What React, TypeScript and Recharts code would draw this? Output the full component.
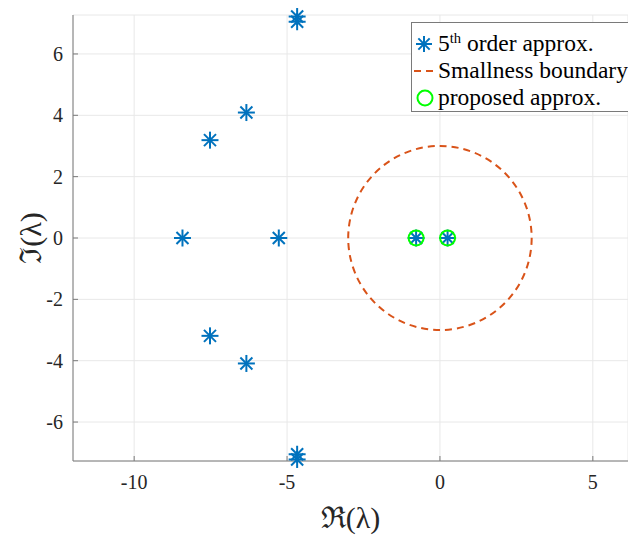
import { ScatterChart, Scatter, XAxis, YAxis, CartesianGrid } from 'recharts';

// eigenvalues of the 5th order approximation (real / imaginary parts)
const starRe = [-8.42, -7.52, -7.52, -6.33, -6.33, -5.27, -4.67, -4.67, -4.67, -4.67, -0.78, 0.25];
const starIm = [0, 3.19, -3.19, 4.09, -4.09, 0, 7.22, 7.05, -7.05, -7.22, 0, 0];

// proposed approximation
const proposedRe = [-0.78, 0.25];
const proposedIm = [0, 0];

// smallness boundary: circle centred at the origin
const boundaryCenter = [0, 0];
const boundaryRadius = 3;

const xTicks = [-10, -5, 0, 5];
const yTicks = [-6, -4, -2, 0, 2, 4, 6];

const starData = starRe.map((x, i) => ({ x, y: starIm[i] }));
const proposedData = proposedRe.map((x, i) => ({ x, y: proposedIm[i] }));
const boundaryData = [
  { x: boundaryCenter[0], y: boundaryCenter[1] },
  { x: boundaryCenter[0] + boundaryRadius, y: boundaryCenter[1] },
  { x: boundaryCenter[0], y: boundaryCenter[1] + boundaryRadius },
];

const BLUE = '#0072BD';
const ORANGE = '#D95319';
const GREEN = '#00FF00';
const AXIS = '#7a7a7a';
const TEXT = '#262626';
const FONT = 'Liberation Serif';

const Star = ({ cx, cy, r = 8.5 }: any) => {
  const d = r * 0.7071;
  return (
    <g stroke={BLUE} strokeWidth={2} strokeLinecap="butt">
      <line x1={cx - r} y1={cy} x2={cx + r} y2={cy} />
      <line x1={cx} y1={cy - r} x2={cx} y2={cy + r} />
      <line x1={cx - d} y1={cy - d} x2={cx + d} y2={cy + d} />
      <line x1={cx - d} y1={cy + d} x2={cx + d} y2={cy - d} />
    </g>
  );
};

const Ring = ({ cx, cy }: any) => (
  <circle cx={cx} cy={cy} r={7.5} fill="none" stroke={GREEN} strokeWidth={2} />
);

// draws the circle from the scaled centre and radius points
const BoundaryLine = (props: any) => {
  const pts = props.points;
  if (!pts || pts.length < 3) return <g />;
  const [c, px, py] = pts;
  return (
    <ellipse
      cx={c.x}
      cy={c.y}
      rx={Math.abs(px.x - c.x)}
      ry={Math.abs(py.y - c.y)}
      fill="none"
      stroke={ORANGE}
      strokeWidth={2}
      strokeDasharray="7 5"
    />
  );
};

const AxisTick = ({ x, y, payload, textAnchor, verticalAnchor }: any) => (
  <text
    x={x}
    y={y}
    textAnchor={textAnchor}
    dominantBaseline={verticalAnchor === 'start' ? 'hanging' : 'central'}
    fontFamily={FONT}
    fontSize={20}
    fill={TEXT}
  >
    {payload.value}
  </text>
);

const YLabel = ({ viewBox }: any) => {
  const x = viewBox.x + 30;
  const y = viewBox.y + viewBox.height / 2;
  return (
    <text x={x} y={y} transform={`rotate(-90 ${x} ${y})`} textAnchor="middle" dominantBaseline="central"
      fontFamily={FONT} fontSize={30} fill={TEXT}>
      ℑ(λ)
    </text>
  );
};

const XLabel = ({ viewBox }: any) => {
  const x = viewBox.x + viewBox.width / 2;
  const y = viewBox.y + 67;
  return (
    <text x={x} y={y} textAnchor="middle" fontFamily={FONT} fontSize={30} fill={TEXT}>
      ℜ(λ)
    </text>
  );
};

function LegendBox() {
  const row = { display: 'flex', alignItems: 'center', height: 27, whiteSpace: 'nowrap' as const };
  const icon = { width: 26, height: 20, flex: 'none' };
  return (
    <div
      style={{
        position: 'absolute', left: 411, top: 22, width: 240, height: 90,
        background: '#fff', border: `1px solid ${AXIS}`, boxSizing: 'border-box',
        paddingTop: 7, fontFamily: FONT, fontSize: 23.5, color: '#000',
      }}
    >
      <div style={row}>
        <svg style={icon}><Star cx={12} cy={10} r={8} /></svg>
        <span>5<sup style={{ fontSize: '0.62em', verticalAlign: '0.55em' }}>th</sup> order approx.</span>
      </div>
      <div style={row}>
        <svg style={icon}>
          <line x1={2} y1={10} x2={23} y2={10} stroke={ORANGE} strokeWidth={2} strokeDasharray="7 5" />
        </svg>
        <span>Smallness boundary</span>
      </div>
      <div style={row}>
        <svg style={icon}><Ring cx={13} cy={10} /></svg>
        <span>proposed approx.</span>
      </div>
    </div>
  );
}

export default function App() {
  return (
    <div style={{ position: 'absolute', left: 0, top: 0, width: 628, height: 537, overflow: 'hidden', background: '#fff', fontFamily: FONT }}>
      <ScatterChart width={628} height={537} margin={{ top: 15, right: 0, bottom: 0, left: 0 }}>
        <CartesianGrid stroke="#e8e8e8" strokeWidth={1} />
        <XAxis
          type="number"
          dataKey="x"
          domain={[-12, 6.15]}
          ticks={xTicks}
          height={76}
          tickSize={-5}
          tickMargin={19}
          stroke={AXIS}
          tick={<AxisTick />}
          label={<XLabel />}
        />
        <XAxis
          xAxisId="top"
          orientation="top"
          type="number"
          dataKey="x"
          domain={[-12, 6.15]}
          ticks={xTicks}
          height={0}
          tickSize={-5}
          stroke={AXIS}
          tick={false}
        />
        <YAxis
          type="number"
          dataKey="y"
          domain={[-7.27, 7.27]}
          ticks={yTicks}
          width={73}
          tickSize={-5}
          tickMargin={15}
          stroke={AXIS}
          tick={<AxisTick />}
          label={<YLabel />}
        />
        <Scatter name="5th order approx." data={starData} shape={<Star />} isAnimationActive={false} />
        <Scatter
          name="Smallness boundary"
          data={boundaryData}
          shape={() => <g />}
          line={BoundaryLine}
          isAnimationActive={false}
        />
        <Scatter name="proposed approx." data={proposedData} shape={<Ring />} isAnimationActive={false} />
      </ScatterChart>
      <LegendBox />
    </div>
  );
}
